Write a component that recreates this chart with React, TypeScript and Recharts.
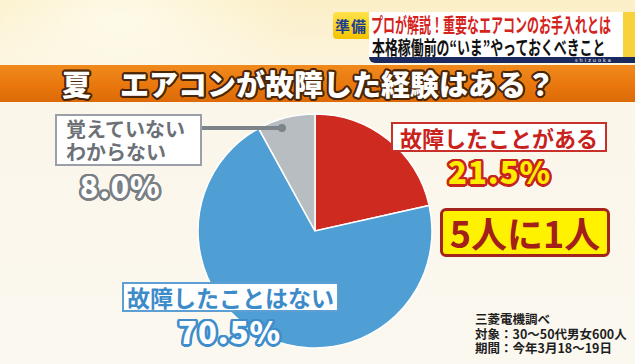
import { Cell, Pie, PieChart } from 'recharts';

// 回答の内訳（時計回り、12時の位置から）
const SLICE_NAMES = ['故障したことがある', '故障したことはない', '覚えていない\nわからない'];
const SLICE_VALUES = [21.5, 70.5, 8.0];
const SLICE_COLORS = ['#cf2a1f', '#4f9ed4', '#b8bdc2'];

const TITLE = '夏\u3000エアコンが故障した経験はある？';
const HEADER_TAG = '準備';
const HEADER_LINE1 = 'プロが解説！重要なエアコンのお手入れとは';
const HEADER_LINE2 = '本格稼働前の“いま”やっておくべきこと';
const CALLOUT = '5人に1人';
const SOURCE_LINES = ['三菱電機調べ', '対象：30～50代男女600人', '期間：今年3月18～19日'];

const JP = '"Noto Sans CJK JP", "Noto Sans", sans-serif';

const pieData = SLICE_NAMES.map((name, i) => ({ name, value: SLICE_VALUES[i] }));
const pct = (v: number) => `${v.toFixed(1)}%`;

// 縁取り文字（text-shadowで輪郭を作る）
function outline(color: string, w: number) {
    const out: string[] = [];
    for (let a = 0; a < 16; a++) {
        const t = (a / 16) * Math.PI * 2;
        out.push(`${(Math.cos(t) * w).toFixed(2)}px ${(Math.sin(t) * w).toFixed(2)}px 0 ${color}`);
    }
    return out.join(', ');
}

const abs = (left: number, top: number, extra: React.CSSProperties = {}): React.CSSProperties => ({
    position: 'absolute', left, top, ...extra,
});

export default function App() {
    return (
        <div style={{
            position: 'absolute', left: 0, top: 0, width: 635, height: 364, overflow: 'hidden',
            fontFamily: JP,
            background: 'linear-gradient(180deg, #fbefc6 0px, #fcf3d8 50px, #fbf6ea 110px, #fbf8f0 364px)',
        }}>
            {/* 上部の淡い光 */}
            <div style={abs(-60, -80, {
                width: 360, height: 200, borderRadius: '50%',
                background: 'radial-gradient(ellipse at center, rgba(255,255,245,0.7), rgba(255,255,245,0) 70%)',
            })} />

            {/* ヘッダー字幕 */}
            <div style={abs(333, 12, {
                width: 36, height: 27, background: 'linear-gradient(180deg,#ffe24a,#f5c400)',
                borderRadius: '4px 0 0 4px', color: '#1d3f8f', fontWeight: 700, fontSize: 15,
                lineHeight: '27px', textAlign: 'center', letterSpacing: 1,
            })}>{HEADER_TAG}</div>
            <div style={abs(369, 12, { width: 266, height: 45, background: '#ffffff' })} />
            <div style={abs(623, 12, { width: 12, height: 45, background: '#f7d23a' })} />
            <div style={abs(371, 14, {
                color: '#d4231c', fontWeight: 700, fontSize: 20, lineHeight: '21px',
                transform: 'scaleX(0.6)', transformOrigin: 'left', whiteSpace: 'nowrap',
            })}>{HEADER_LINE1}</div>
            <div style={abs(372, 37, {
                color: '#111111', fontWeight: 700, fontSize: 19, lineHeight: '20px',
                transform: 'scaleX(0.68)', transformOrigin: 'left', whiteSpace: 'nowrap',
            })}>{HEADER_LINE2}</div>
            <div style={abs(369, 57, {
                width: 266, height: 6, background: '#1b2a5e', borderRadius: '0 0 0 6px',
            })} />
            <div style={abs(575, 57.5, {
                color: '#ffffff', fontSize: 5, lineHeight: '5px', letterSpacing: 2, fontFamily: 'DejaVu Sans',
            })}>shizuoka</div>

            {/* タイトル帯 */}
            <div style={abs(0, 65, {
                width: 635, height: 37,
                background: 'linear-gradient(180deg, #f08a1c 0%, #e8760d 60%, #dc6a08 100%)',
            })} />
            <div style={abs(62, 65, {
                color: '#ffffff', fontWeight: 900, fontSize: 29, lineHeight: '37px', whiteSpace: 'nowrap',
                textShadow: outline('#4a2608', 2),
            })}>{TITLE}</div>

            {/* 円グラフ */}
            <div style={abs(0, 0)}>
                <PieChart width={635} height={364} margin={{ top: 0, right: 0, bottom: 0, left: 0 }}>
                    <Pie
                        data={pieData}
                        dataKey="value"
                        nameKey="name"
                        cx={315}
                        cy={231}
                        outerRadius={117}
                        startAngle={90}
                        endAngle={-270}
                        stroke="#ffffff"
                        strokeWidth={1.5}
                        isAnimationActive={false}
                    >
                        {pieData.map((d, i) => <Cell key={d.name} fill={SLICE_COLORS[i]} />)}
                    </Pie>
                </PieChart>
            </div>

            {/* 覚えていない・わからない */}
            <div style={abs(200, 126, { width: 82, height: 4, background: '#7c848a', borderRadius: 2 })} />
            <div style={abs(278, 124, { width: 8, height: 8, background: '#7c848a', borderRadius: '50%' })} />
            <div style={abs(55, 114, {
                width: 134, height: 47, background: '#ffffff', border: '2px solid #9aa0a5',
                color: '#6c7177', fontWeight: 700, fontSize: 20, lineHeight: '23px',
                padding: '1px 0 0 9px', whiteSpace: 'pre', boxSizing: 'content-box',
            })}>{SLICE_NAMES[2]}</div>
            <div style={abs(80, 167, {
                color: '#ffffff', fontWeight: 900, fontSize: 30, lineHeight: '36px',
                textShadow: outline('#7a7f84', 2.5), letterSpacing: 1,
            })}>{pct(SLICE_VALUES[2])}</div>

            {/* 故障したことがある */}
            <div style={abs(391, 122, {
                width: 212, height: 26, background: '#ffffff', border: '2px solid #c9302a',
                color: '#c8221b', fontWeight: 700, fontSize: 22, lineHeight: '26px',
                textAlign: 'center', whiteSpace: 'nowrap',
            })}>{SLICE_NAMES[0]}</div>
            <div style={abs(448, 153, {
                color: '#ffec00', fontWeight: 900, fontSize: 31, lineHeight: '36px',
                textShadow: outline('#c8241c', 2.5), letterSpacing: 1,
            })}>{pct(SLICE_VALUES[0])}</div>

            {/* 5人に1人 */}
            <div style={abs(440, 208, {
                width: 164, height: 43, background: '#fff200', border: '3px solid #a3241b',
                borderRadius: 6, color: '#a3201a', fontWeight: 700, fontSize: 36,
                lineHeight: '43px', textAlign: 'center', whiteSpace: 'nowrap',
            })}>{CALLOUT}</div>

            {/* 故障したことはない */}
            <div style={abs(122, 282, {
                width: 213, height: 26, background: '#ffffff', border: '2px solid #5d9fd3',
                color: '#3d8bc9', fontWeight: 700, fontSize: 23, lineHeight: '26px',
                textAlign: 'center', whiteSpace: 'nowrap',
            })}>{SLICE_NAMES[1]}</div>
            <div style={abs(178, 314, {
                color: '#ffffff', fontWeight: 900, fontSize: 31, lineHeight: '34px',
                textShadow: outline('#3f8ecb', 2.5), letterSpacing: 1,
            })}>{pct(SLICE_VALUES[1])}</div>

            {/* 出典 */}
            <div style={abs(475, 312, {
                color: '#1e1e1e', fontWeight: 700, fontSize: 12.5, lineHeight: '14.5px', whiteSpace: 'pre',
            })}>{SOURCE_LINES.join('\n')}</div>
        </div>
    );
}
